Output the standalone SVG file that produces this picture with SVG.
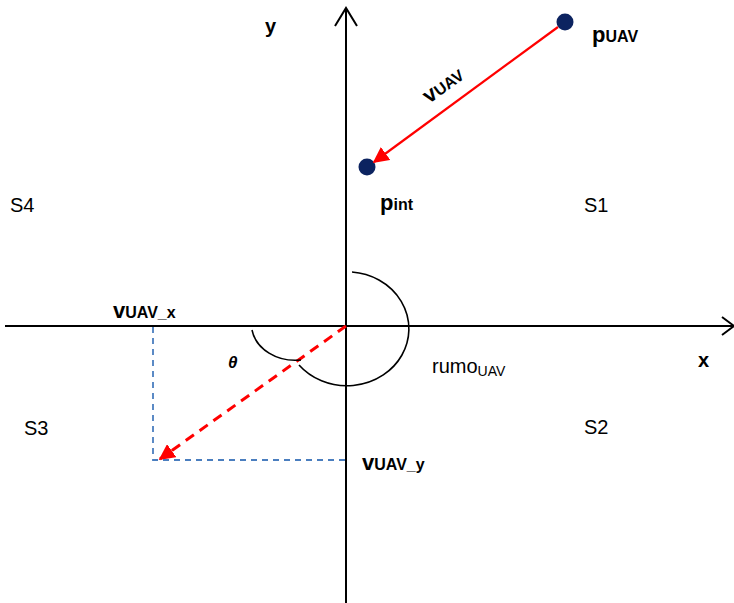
<svg xmlns="http://www.w3.org/2000/svg" width="734" height="603" viewBox="0 0 734 603">
<style>
text{font-family:"Liberation Sans",Arial,sans-serif;fill:#000}
.b{font-weight:bold}
.lab{font-size:20px}
.axis{stroke:#000;stroke-width:2;fill:none}
.blue{stroke:#4a7ebf;stroke-width:1.8;stroke-dasharray:6,5;fill:none}
.arc{stroke:#000;stroke-width:1.6;fill:none}
</style>
<defs>
<marker id="rh" viewBox="0 0 10 10" refX="9" refY="5" markerWidth="16" markerHeight="16" markerUnits="userSpaceOnUse" orient="auto">
<path d="M0,0 L10,5 L0,10 z" fill="#ff0000"/>
</marker>
</defs>
<g id="axes">
<line class="axis" x1="346" y1="8" x2="346" y2="603"/>
<polyline class="axis" points="335,26 346,8 357,26"/>
<line class="axis" x1="5" y1="326" x2="733" y2="326"/>
<polyline class="axis" points="722,317 734,326 722,335"/>
<text class="b lab" x="265" y="33">y</text>
<text class="b lab" x="698" y="367">x</text>
</g>
<g id="quadrants">
<text class="lab" x="10" y="212">S4</text>
<text class="lab" x="584" y="212">S1</text>
<text class="lab" x="24" y="435">S3</text>
<text class="lab" x="584" y="434">S2</text>
</g>
<g id="pUAV">
<circle cx="565" cy="22" r="8.5" fill="#0c2360"/>
<text class="b" x="592" y="42"><tspan font-size="22">p</tspan><tspan font-size="16">UAV</tspan></text>
</g>
<g id="pint">
<circle cx="367" cy="167" r="8.5" fill="#0c2360"/>
<text class="b" x="380" y="210"><tspan font-size="22">p</tspan><tspan font-size="16">int</tspan></text>
</g>
<g id="connectors">
<line x1="558" y1="27" x2="374" y2="162" stroke="#ff0000" stroke-width="2.2" marker-end="url(#rh)"/>
<line x1="346" y1="326" x2="160" y2="459" stroke="#ff0000" stroke-width="3" stroke-dasharray="10,7" marker-end="url(#rh)"/>
<polyline class="blue" points="153,327 153,460 346,460"/>
<path class="arc" d="M352,272 A62 57 0 1 1 299,365"/>
<path class="arc" d="M252,330 A44 36 0 0 0 301,360"/>
</g>
<g id="labels">
<text class="b" transform="translate(429,104) rotate(-36)"><tspan font-size="22">v</tspan><tspan font-size="16">UAV</tspan></text>
<text class="b" x="113" y="318"><tspan font-size="22">v</tspan><tspan font-size="16">UAV_x</tspan></text>
<text class="b" x="362" y="470"><tspan font-size="22">v</tspan><tspan font-size="16">UAV_y</tspan></text>
<text x="228" y="368" font-family="'Liberation Serif',serif" font-style="italic" font-weight="bold" font-size="17">θ</text>
<text x="432" y="373"><tspan font-size="20">rumo</tspan><tspan font-size="14" dy="3">UAV</tspan></text>
</g>
</svg>
